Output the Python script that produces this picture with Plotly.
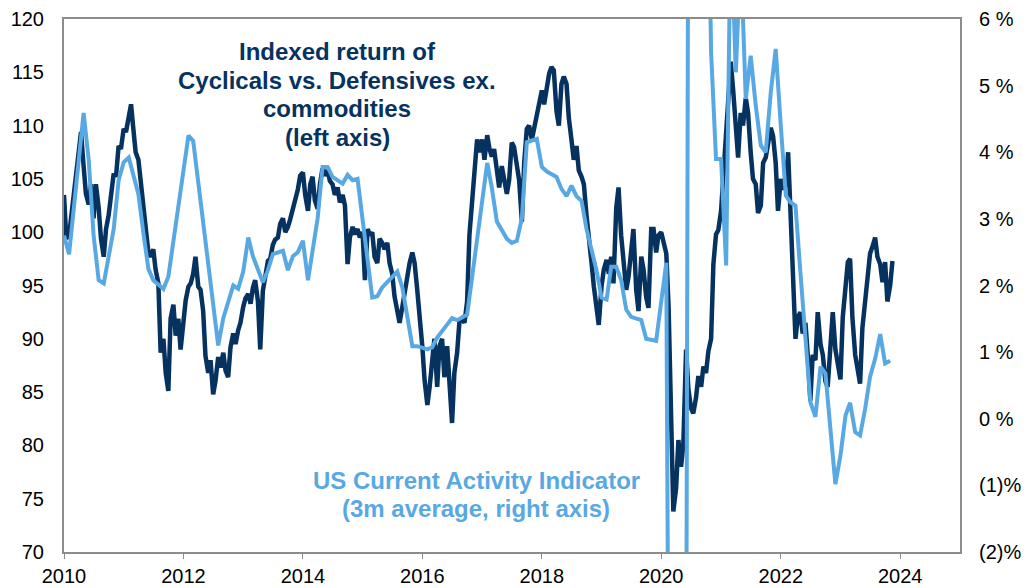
import pandas as pd
import plotly.graph_objects as go

# Indexed return of Cyclicals vs. Defensives ex. commodities (left axis), semi-monthly readings
cyc_values = [
    103.5, 99.4, 99.7, 101.6, 103.6, 104.9, 107.5, 109.4, 106.2, 103.6,
    102.6, 104.5, 101.3, 104.5, 102.3, 99.4, 97.7, 100.3, 101.6, 103.2,
    105.5, 105.2, 108.1, 107.8, 109.7, 109.4, 110.7, 112.0, 109.7, 107.5,
    106.8, 104.9, 102.9, 101.0, 98.1, 97.7, 98.4, 96.5, 95.2, 88.7,
    90.0, 86.8, 85.1, 91.9, 93.2, 90.3, 91.9, 89.0, 91.6, 93.6,
    94.9, 95.2, 96.1, 97.7, 94.9, 94.6, 92.6, 88.4, 86.8, 88.0,
    84.8, 86.0, 88.3, 87.3, 88.7, 87.0, 86.4, 89.2, 90.5, 89.5,
    90.8, 91.5, 93.0, 93.8, 94.2, 93.3, 94.8, 95.5, 93.5, 89.0,
    94.5, 96.0, 97.3, 97.5, 98.8, 99.3, 99.5, 100.8, 101.3, 100.0,
    100.5, 101.2, 102.2, 103.0, 104.0, 105.3, 105.6, 103.5, 102.0, 104.5,
    105.2, 103.0, 102.2, 104.5, 106.0, 105.3, 105.8, 104.8, 104.5, 103.5,
    104.2, 102.8, 103.5, 102.5, 97.0, 99.5, 100.5, 99.8, 100.3, 99.5,
    100.0, 95.5, 100.3, 99.7, 100.0, 97.7, 97.1, 99.4, 99.0, 98.4,
    99.0, 97.1, 96.1, 94.0, 92.5, 91.5, 93.0, 94.5, 95.5, 97.1,
    98.1, 97.1, 94.6, 92.6, 89.3, 86.1, 83.8, 85.5, 88.0, 90.0,
    85.5, 89.3, 90.0, 86.4, 89.3, 85.5, 82.1, 86.8, 88.7, 91.6,
    91.9, 91.5, 93.5, 99.7, 102.9, 105.8, 108.7, 107.5, 108.7, 106.8,
    109.1, 107.8, 107.1, 107.8, 105.8, 104.2, 106.2, 105.2, 103.6, 104.9,
    108.4, 108.0, 106.5, 104.9, 101.0, 106.5, 109.7, 110.0, 108.7, 109.7,
    111.0, 112.0, 113.3, 112.0, 113.9, 114.9, 115.5, 115.2, 111.3, 110.0,
    113.9, 114.6, 113.9, 110.7, 108.7, 106.8, 108.1, 105.8, 105.2, 104.5,
    101.6, 99.0, 97.1, 94.9, 92.6, 91.3, 94.9, 96.5, 97.4, 96.1,
    97.7, 95.2, 102.3, 104.2, 99.7, 97.1, 94.6, 95.8, 98.1, 100.3,
    94.6, 92.6, 97.7, 96.5, 93.9, 92.9, 100.3, 100.3, 98.1, 99.7,
    100.0, 99.0, 98.0, 93.0, 81.5, 73.8, 76.0, 80.5, 78.0, 80.0,
    89.0, 85.3, 83.5, 83.0, 84.5, 86.5, 85.5, 87.4, 86.8, 88.8,
    90.0, 97.0, 99.8, 100.2, 102.0, 105.5, 108.5, 112.5, 116.0, 113.5,
    110.5, 107.0, 111.2, 110.0, 112.6, 111.2, 107.5, 105.0, 104.5, 101.8,
    102.5, 106.5, 107.0, 108.5, 109.8, 109.0, 106.5, 102.0, 105.0, 104.0,
    104.5, 107.5, 101.5, 95.0, 90.0, 92.0, 92.5, 90.5, 91.5, 88.5,
    84.2, 88.5, 88.0, 92.5, 89.5, 88.5, 86.0, 85.5, 90.0, 92.5,
    89.0, 87.5, 86.2, 92.0, 95.5, 97.2, 97.5, 92.0, 88.5, 87.0,
    85.8, 91.0, 93.8, 96.0, 98.0, 98.6, 99.5, 97.7, 97.0, 95.3,
    97.2, 93.5, 95.0, 97.3,
]
cyc_dates = pd.date_range("2010-01-01", periods=len(cyc_values), freq="SMS")

# US Current Activity Indicator, 3m average (right axis, %)
cai_dates = [
    "2010-01", "2010-02", "2010-05", "2010-06", "2010-07", "2010-08", "2010-09", "2010-11", "2010-12",
    "2011-01", "2011-02", "2011-04", "2011-05", "2011-06", "2011-07", "2011-09", "2011-10",
    "2012-02", "2012-03", "2012-08", "2012-09", "2012-11", "2012-12",
    "2013-01", "2013-02", "2013-03", "2013-05", "2013-06", "2013-07", "2013-09", "2013-10", "2013-11", "2013-12",
    "2014-01", "2014-02", "2014-04", "2014-05", "2014-06", "2014-07", "2014-09", "2014-10", "2014-11", "2014-12",
    "2015-03", "2015-04", "2015-05", "2015-08", "2015-09", "2015-11", "2015-12",
    "2016-02", "2016-03", "2016-04", "2016-07", "2016-08", "2016-10",
    "2017-02", "2017-03", "2017-04", "2017-06", "2017-07", "2017-08", "2017-09", "2017-10", "2017-12",
    "2018-01", "2018-02", "2018-04", "2018-05", "2018-06", "2018-07", "2018-08", "2018-09", "2018-10", "2018-12",
    "2019-01", "2019-02", "2019-03", "2019-04", "2019-05", "2019-06", "2019-07", "2019-09", "2019-10", "2019-12",
    "2020-01", "2020-02", "2020-03", "2020-04", "2020-05", "2020-06", "2020-07", "2020-08", "2020-09", "2020-10",
    "2020-11", "2020-12",
    "2021-01", "2021-02", "2021-03", "2021-04", "2021-05", "2021-06", "2021-07", "2021-08", "2021-09", "2021-10",
    "2021-11", "2021-12",
    "2022-01", "2022-02", "2022-03", "2022-04", "2022-05", "2022-06", "2022-07", "2022-08", "2022-09", "2022-10",
    "2022-12",
    "2023-01", "2023-02", "2023-03", "2023-04", "2023-05", "2023-06", "2023-07", "2023-08", "2023-09", "2023-10",
    "2023-11",
]
cai_values = [
    2.75, 2.47, 4.59, 3.89, 2.75, 2.08, 2.03, 2.85, 3.58,
    3.85, 3.92, 3.37, 2.80, 2.25, 2.08, 1.95, 2.13,
    4.25, 4.17, 1.10, 1.51, 2.00, 1.95,
    2.21, 2.72, 2.44, 2.05, 2.23, 2.47, 2.52, 2.23, 2.44, 2.50,
    2.67, 2.08, 3.01, 3.78, 3.78, 3.63, 3.53, 3.66, 3.58, 3.60,
    1.82, 1.84, 1.97, 2.21, 1.97, 1.09, 1.09,
    1.04, 1.07, 1.22, 1.51, 1.48, 1.56,
    3.84, 3.47, 2.96, 2.70, 2.64, 2.67, 3.01, 4.15, 4.20,
    3.78, 3.71, 3.63, 3.45, 3.34, 3.50, 3.34, 3.27, 2.85, 2.23,
    1.82, 1.79, 2.28, 2.28, 2.08, 1.64, 1.53, 1.48, 1.20, 1.17,
    1.75, 2.34, -12.0, -22.0, -15.0, -5.0, 25.0, 20.0, 14.0, 10.0,
    5.5, 3.9,
    3.9, 2.3, 7.5, 5.2, 7.0, 4.8, 5.45, 4.7, 4.1, 4.0,
    4.9, 5.55,
    4.4, 3.35, 3.25, 3.2, 2.2, 1.2, 0.25, 0.03, 0.78, 0.68,
    -0.98,
    -0.55, 0.05, 0.24, -0.2, -0.25, 0.15, 0.63, 0.9, 1.27, 0.83,
    0.87,
]

x_tick_years = [2010, 2012, 2014, 2016, 2018, 2020, 2022, 2024]
left_ticks = [70, 75, 80, 85, 90, 95, 100, 105, 110, 115, 120]
right_ticks = [-2, -1, 0, 1, 2, 3, 4, 5, 6]
right_tick_text = ["(2)%", "(1)%", "0 %", "1 %", "2 %", "3 %", "4 %", "5 %", "6 %"]

NAVY = "#06325F"
LIGHT = "#58A8E3"
FONT = "Liberation Sans, Arial, sans-serif"

fig = go.Figure()
fig.add_trace(go.Scatter(
    x=cyc_dates, y=cyc_values, mode="lines", yaxis="y",
    line=dict(color=NAVY, width=4.5), showlegend=False,
))
fig.add_trace(go.Scatter(
    x=pd.to_datetime(cai_dates), y=cai_values, mode="lines", yaxis="y2",
    line=dict(color=LIGHT, width=4), showlegend=False,
))

# the page has an 8px body margin, so the figure is drawn 8px in from the window edge
OFF = 8
W, H = 1035 - OFF, 588 - OFF
L, T = 64 - OFF, 19 - OFF
R, B = W - (960 - OFF), H - (552 - OFF)
pw, ph = W - L - R, H - T - B


def px(xp):
    return (xp - OFF - L) / pw


def py(yp):
    return 1 - (yp - OFF - T) / ph


annotations = []
for txt, yc in [("Indexed return of", 52), ("Cyclicals vs. Defensives ex.", 80),
                ("commodities", 108), ("(left axis)", 137)]:
    annotations.append(dict(text="<b>%s</b>" % txt, x=px(337), y=py(yc), xref="paper", yref="paper",
                            xanchor="center", yanchor="middle", showarrow=False,
                            font=dict(family=FONT, size=24, color=NAVY)))
for txt, yc in [("US Current Activity Indicator", 480), ("(3m average, right axis)", 508)]:
    annotations.append(dict(text="<b>%s</b>" % txt, x=px(476), y=py(yc), xref="paper", yref="paper",
                            xanchor="center", yanchor="middle", showarrow=False,
                            font=dict(family=FONT, size=24, color=LIGHT)))

fig.update_layout(
    template="none",
    width=W, height=H,
    margin=dict(l=L, r=R, t=T, b=B, autoexpand=False),
    paper_bgcolor="white", plot_bgcolor="white",
    font=dict(family=FONT, size=20, color="black"),
    showlegend=False,
    xaxis=dict(
        type="date", range=["2010-01-01", "2025-01-01"], automargin=False,
        tickvals=["%d-01-01" % y for y in x_tick_years],
        ticktext=[str(y) for y in x_tick_years],
        ticks="outside", ticklen=5, tickcolor="#8c8c8c", tickwidth=1,
        showline=True, linecolor="#8c8c8c", linewidth=2, mirror=True,
        showgrid=False, zeroline=False,
        tickfont=dict(family=FONT, size=20, color="black"),
    ),
    yaxis=dict(
        range=[70, 120], tickvals=left_ticks, automargin=False,
        showline=True, linecolor="#8c8c8c", linewidth=2, mirror=True,
        showgrid=False, zeroline=False, ticks="",
        ticklabelstandoff=14,
        tickfont=dict(family=FONT, size=20, color="black"),
    ),
    yaxis2=dict(
        range=[-2, 6], overlaying="y", side="right", automargin=False,
        tickvals=right_ticks, ticktext=right_tick_text,
        showline=False, showgrid=False, zeroline=False, ticks="",
        ticklabelstandoff=18,
        tickfont=dict(family=FONT, size=20, color="black"),
    ),
    annotations=annotations,
)

fig.write_html("out.html")
